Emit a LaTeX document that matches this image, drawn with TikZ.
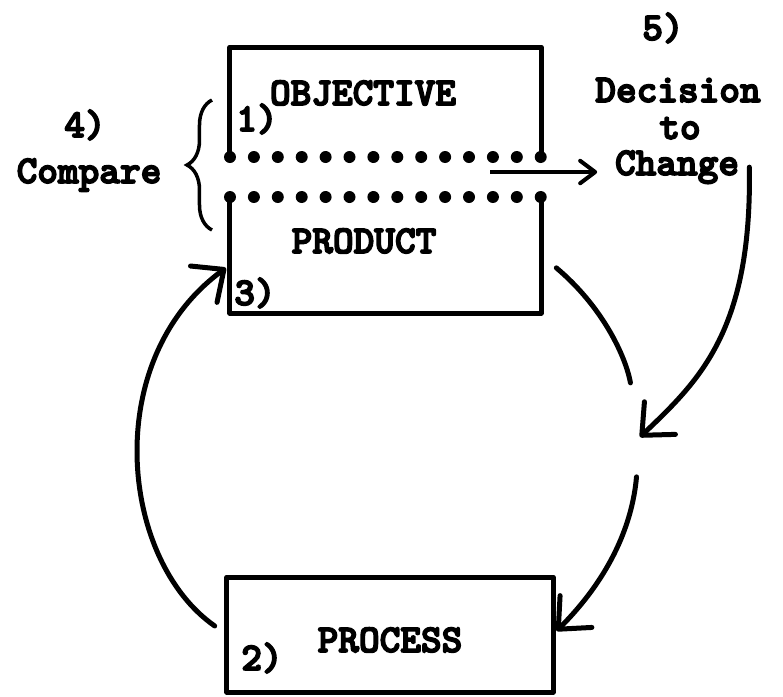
\documentclass[tikz,border=0pt]{standalone}
\usepackage{fontspec}
\newfontfamily\typer{lmmonolt10-bold}[Extension=.otf, FakeBold=4]
\usetikzlibrary{arrows.meta, calc, decorations.pathreplacing}

\begin{document}
\begin{tikzpicture}[
    x=0.2mm, y=-0.2mm,
    every node/.style={font=\typer\fontsize{22.4}{25}\selectfont, inner sep=0.5mm},
    frame/.style={inner sep=0pt, outer sep=0pt},
    frameline/.style={line width=1mm, line cap=round, line join=round},
    dotline/.style={line width=2.4mm, line cap=round, dash pattern=on 0pt off 4.78mm},
    flow/.style={line width=1mm, line cap=round,
                 -{Straight Barb[length=5mm, width=9mm, round]}},
    bracket/.style={line width=0.7mm, decorate, decoration={brace, amplitude=5mm}},
]
\useasboundingbox (0,0) rectangle (783,696);

% the three boxes
\node[frame, minimum width=62.2mm, minimum height=22mm]   (obj)     at (385.5,102) {};
\node[frame, minimum width=62.2mm, minimum height=23.2mm] (product) at (385.5,255) {};
\node[frame, frameline, draw, minimum width=65.2mm, minimum height=23mm] (process) at (390,634.5) {};

% objective box, open (dotted) at the bottom
\draw[frameline] (obj.south west) -- (obj.north west) -- (obj.north east) -- (obj.south east);
\draw[dotline] (obj.south west) -- (obj.south east);
% product box, open (dotted) at the top
\draw[frameline] (product.north west) -- (product.south west) -- (product.south east) -- (product.north east);
\draw[dotline] (product.north west) -- (product.north east);

% box texts
\node[anchor=base] (objtxt)  at (363,105) {OBJECTIVE};
\node[anchor=base] (one)     at (257,131) {1)};
\node[anchor=base] (prodtxt) at (364,253) {PRODUCT};
\node[anchor=base] (three)   at (255,305) {3)};
\node[anchor=base] (proctxt) at (390,652) {PROCESS};
\node[anchor=base] (two)     at (262,670) {2)};

% compare step
\node[anchor=base] (four)    at (85,137)  {4)};
\node[anchor=base] (compare) at (89,183)  {Compare};
\draw[bracket] ([xshift=-3.6mm, yshift=5mm]product.west) -- ([xshift=-3.6mm, yshift=0.4mm]obj.west);

% decision step
\node[anchor=base] (five)     at (663,40)  {5)};
\node[anchor=base] (decision) at (678,102) {Decision};
\node[anchor=base] (to)       at (680,139) {to};
\node[anchor=base] (change)   at (677,175) {Change};

\coordinate (gap)   at (490,172);
\coordinate (merge) at (640,437);

\draw[line width=0.8mm, shorten >=3mm, -{Straight Barb[length=3mm, width=4.5mm, round]}]
      (gap) -- (gap -| change.west);

% the loop
\draw[flow, shorten <=3mm, shorten >=1mm]
      (process.west) .. controls (120,560) and (100,360) .. ([yshift=-2mm]product.west);
\draw[frameline, shorten <=4mm, shorten >=11mm]
      (product.east) to[out=-40, in=100] (merge);
\draw[flow] ([xshift=1.5mm]change.east) .. controls (752,330) and (700,380) .. (merge);
\draw[flow, shorten <=8mm, shorten >=1mm]
      (merge) to[out=-95, in=45] (process.east);
\end{tikzpicture}
\end{document}
